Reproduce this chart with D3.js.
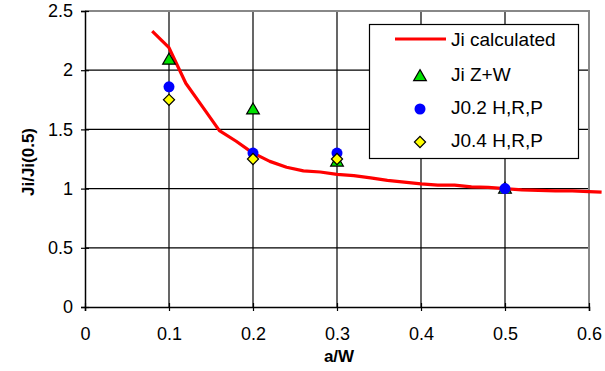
<!DOCTYPE html>
<html>
<head>
<meta charset="utf-8">
<script src="https://cdn.jsdelivr.net/npm/d3@7"></script>
<style>
  body { margin: 0; background: #fff; }
  svg { display: block; font-family: "Liberation Sans", Arial, sans-serif; }
</style>
</head>
<body>
<div id="chart"></div>
<script>
// calculated curve
const calcX = [0.08, 0.10, 0.12, 0.14, 0.16, 0.18, 0.20, 0.22, 0.24, 0.26, 0.28, 0.30, 0.32, 0.34, 0.36,
  0.38, 0.40, 0.42, 0.44, 0.46, 0.48, 0.50, 0.52, 0.54, 0.56, 0.58, 0.60, 0.615];
const calcY = [2.33, 2.19, 1.89, 1.69, 1.49, 1.40, 1.30, 1.23, 1.18, 1.15, 1.14, 1.12, 1.11, 1.09, 1.07,
  1.055, 1.04, 1.03, 1.03, 1.015, 1.01, 1.00, 0.99, 0.985, 0.98, 0.98, 0.975, 0.97];

// measured points
const zwX = [0.1, 0.2, 0.3, 0.5];
const zwY = [2.09, 1.67, 1.23, 1.0];
const j02X = [0.1, 0.2, 0.3, 0.5];
const j02Y = [1.86, 1.30, 1.30, 1.0];
const j04X = [0.1, 0.2, 0.3];
const j04Y = [1.75, 1.25, 1.25];

const xTicks = [0, 0.1, 0.2, 0.3, 0.4, 0.5, 0.6];
const yTicks = [0, 0.5, 1, 1.5, 2, 2.5];
const seriesNames = ["Ji calculated", "Ji Z+W", "J0.2 H,R,P", "J0.4 H,R,P"];

const width = 605, height = 371;
const plotLeft = 85, plotRight = 589, plotTop = 11, plotBottom = 307;

const svg = d3.select("#chart").append("svg")
  .attr("width", width)
  .attr("height", height);

const x = d3.scaleLinear().domain([0, 0.6]).range([plotLeft, plotRight]);
const y = d3.scaleLinear().domain([0, 2.5]).range([plotBottom, plotTop]);

// grid
svg.append("g")
  .selectAll("line")
  .data(yTicks.slice(1, -1))
  .enter()
  .append("line")
  .attr("x1", plotLeft).attr("x2", plotRight)
  .attr("y1", (d) => y(d)).attr("y2", (d) => y(d))
  .attr("stroke", "#000").attr("stroke-width", 1.2);

svg.append("g")
  .selectAll("line")
  .data(xTicks.slice(1, -1))
  .enter()
  .append("line")
  .attr("x1", (d) => x(d)).attr("x2", (d) => x(d))
  .attr("y1", plotTop).attr("y2", plotBottom)
  .attr("stroke", "#000").attr("stroke-width", 1.2);

// plot frame (top, right) in grey
svg.append("path")
  .attr("d", `M${plotLeft},${plotTop} H${plotRight} V${plotBottom}`)
  .attr("fill", "none")
  .attr("stroke", "#888")
  .attr("stroke-width", 2);

// axes
const yAxis = d3.axisLeft(y).tickValues(yTicks).tickSize(4).tickPadding(8)
  .tickFormat(d3.format("~g"));
const gy = svg.append("g").attr("transform", `translate(${plotLeft},0)`).call(yAxis);

const xAxis = d3.axisBottom(x).tickValues(xTicks).tickSize(4).tickPadding(16)
  .tickFormat(d3.format("~g"));
const gx = svg.append("g").attr("transform", `translate(0,${plotBottom})`).call(xAxis);

[gy, gx].forEach((g) => {
  g.select(".domain").attr("stroke", "#000").attr("stroke-width", 1.5);
  g.selectAll(".tick line").attr("stroke", "#000").attr("stroke-width", 1.2);
  g.selectAll(".tick text").attr("fill", "#000").attr("font-size", 18)
    .attr("font-family", "Liberation Sans, Arial, sans-serif");
});
// ticks cross the axis
gy.selectAll(".tick line").attr("x1", 4).attr("x2", -4);
gx.selectAll(".tick line").attr("y1", -4).attr("y2", 4);

// axis titles
svg.append("text")
  .attr("x", (plotLeft + plotRight) / 2 + 2)
  .attr("y", 362)
  .attr("text-anchor", "middle")
  .attr("font-size", 17)
  .attr("font-weight", "bold")
  .text("a/W");

svg.append("text")
  .attr("transform", `translate(34,${(plotTop + plotBottom) / 2 + 3}) rotate(-90)`)
  .attr("text-anchor", "middle")
  .attr("font-size", 17)
  .attr("font-weight", "bold")
  .text("Ji/Ji(0.5)");

// calculated line
const line = d3.line().x((d) => x(d[0])).y((d) => y(d[1]));
svg.append("path")
  .datum(d3.zip(calcX, calcY))
  .attr("d", line)
  .attr("fill", "none")
  .attr("stroke", "#ff0000")
  .attr("stroke-width", 3.2)
  .attr("stroke-linejoin", "round");

const triangle = d3.symbol().type(d3.symbolTriangle).size(70);
const circle = d3.symbol().type(d3.symbolCircle).size(95);
const diamond = d3.symbol().type(d3.symbolSquare).size(62);

const markers = [
  { xs: zwX, ys: zwY, sym: triangle, fill: "#00e000", stroke: "#000", rot: 0, dy: 1 },
  { xs: j02X, ys: j02Y, sym: circle, fill: "#0000ff", stroke: "none", rot: 0, dy: 0 },
  { xs: j04X, ys: j04Y, sym: diamond, fill: "#ffff00", stroke: "#000", rot: 45, dy: 0 },
];

markers.forEach((m) => {
  svg.append("g")
    .selectAll("path")
    .data(d3.zip(m.xs, m.ys))
    .enter()
    .append("path")
    .attr("d", m.sym)
    .attr("transform", (d) => `translate(${x(d[0])},${y(d[1]) + m.dy}) rotate(${m.rot})`)
    .attr("fill", m.fill)
    .attr("stroke", m.stroke)
    .attr("stroke-width", 1.2);
});

// legend
const legend = svg.append("g");
legend.append("rect")
  .attr("x", 369.5).attr("y", 24.5)
  .attr("width", 209).attr("height", 134)
  .attr("fill", "#fff")
  .attr("stroke", "#000")
  .attr("stroke-width", 1.2);

const rowY = [39, 74, 107, 140];
legend.append("line")
  .attr("x1", 395).attr("x2", 446)
  .attr("y1", rowY[0]).attr("y2", rowY[0])
  .attr("stroke", "#ff0000").attr("stroke-width", 3.2);

markers.forEach((m, i) => {
  legend.append("path")
    .attr("d", m.sym)
    .attr("transform", `translate(420,${rowY[i + 1] + m.dy + 2}) rotate(${m.rot})`)
    .attr("fill", m.fill)
    .attr("stroke", m.stroke)
    .attr("stroke-width", 1.2);
});

legend.selectAll("text.lbl")
  .data(seriesNames)
  .enter()
  .append("text")
  .attr("class", "lbl")
  .attr("x", 451)
  .attr("y", (d, i) => rowY[i] + 7)
  .attr("font-size", 19)
  .attr("fill", "#000")
  .text((d) => d);
</script>
</body>
</html>
